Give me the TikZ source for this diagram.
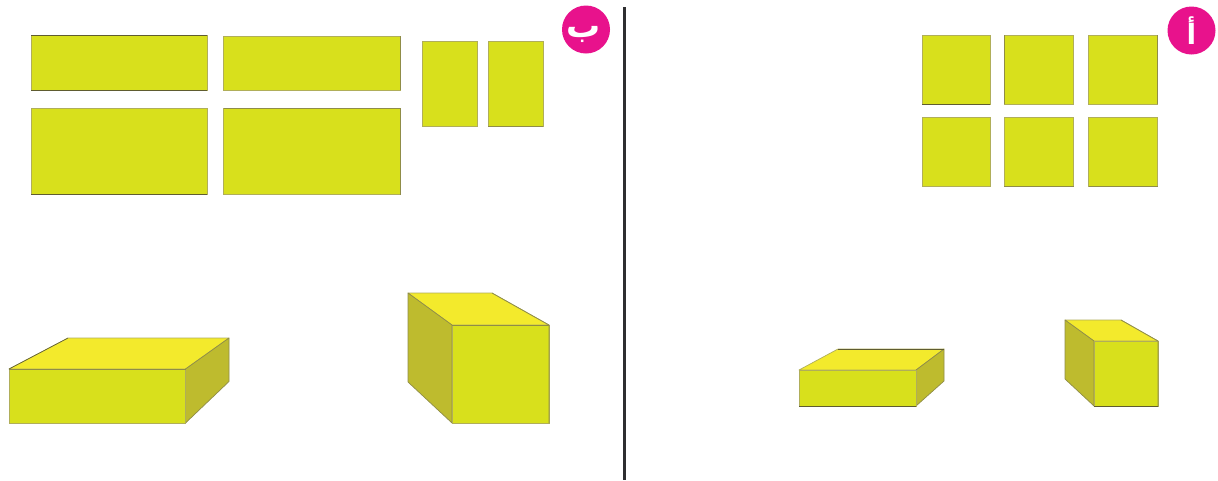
\documentclass[tikz,border=0pt]{standalone}
\usepackage{fontspec}
\newfontfamily\arabicfont[Script=Arabic]{DejaVu Sans}
\TeXXeTstate=1
\definecolor{front}{HTML}{D8E01C}
\definecolor{topf}{HTML}{F3EA2C}
\definecolor{sidef}{HTML}{BEBB2E}
\definecolor{edgesoft}{HTML}{B0AE5A}
\definecolor{edgedark}{HTML}{5F5C30}
\definecolor{edgemid}{HTML}{8F8C48}
\definecolor{badge}{HTML}{E8128C}
\definecolor{divider}{HTML}{2F2F31}
\tikzset{
  pane/.style={fill=front,draw=edgesoft,line width=0.7pt},
  topface/.style={fill=topf,draw=edgesoft,line width=0.7pt,line join=round},
  sideface/.style={fill=sidef,draw=edgemid,line width=0.7pt,line join=round},
  darkline/.style={draw=edgedark,line width=1pt},
  midline/.style={draw=edgemid,line width=1pt},
  badgetext/.style={text=white,inner sep=0pt}
}
\begin{document}
\begin{tikzpicture}[x=1pt,y=-1pt]
\useasboundingbox (0,0) rectangle (1218,480);
\fill[white] (0,0) rectangle (1218,480);
% left flat panes
\draw[pane] (31,35) rectangle (207,90);
\draw[darkline] (31,35) -- (207,35) (31,90) -- (207,90);
\draw[pane] (223.5,36) rectangle (400.5,90);
\draw[midline] (400.5,36) -- (400.5,90);
\draw[pane] (31,108) rectangle (207,194.5);
\draw[darkline] (31,194.5) -- (207,194.5);
\draw[pane] (223.5,108.5) rectangle (400.5,194.5);
\draw[midline] (223.5,108.5) -- (400.5,108.5) -- (400.5,194.5);
\draw[pane] (422,41) rectangle (477,126);
\draw[pane] (488,41) rectangle (543,126);
\draw[midline] (488,126) -- (543,126);
% right flat panes
\draw[pane] (922,35) rectangle (990,104);
\draw[darkline] (922,104) -- (990,104);
\draw[pane] (1004,35) rectangle (1073.5,104);
\draw[midline] (1004,35) -- (1004,104);
\draw[pane] (1088,35) rectangle (1157,104);
\draw[midline] (1157,35) -- (1157,104);
\draw[pane] (922,117.5) rectangle (990,186.5);
\draw[pane] (1004,117.5) rectangle (1073.5,186.5);
\draw[midline] (1004,186.5) -- (1073.5,186.5);
\draw[pane] (1088.5,117.5) rectangle (1157.5,186.5);
\draw[midline] (1088.5,186.5) -- (1157.5,186.5);
% large flat box
\draw[topface] (9,369) -- (68,338) -- (229,338) -- (185.5,369) -- cycle;
\draw[sideface] (185.5,369) -- (229,338) -- (229,381.5) -- (185.5,423) -- cycle;
\draw[pane] (9,369) rectangle (185.5,423);
\draw[midline] (9,369) -- (185.5,369);
\draw[edgedark,line width=0.6pt] (9,369) -- (68,338);
% large cube
\draw[topface] (408,293) -- (492,293) -- (549,325) -- (452,325) -- cycle;
\draw[sideface] (408,293) -- (452,325) -- (452,423) -- (408,382) -- cycle;
\draw[pane] (452,325) rectangle (549,423);
\draw[midline] (452,325) -- (549,325);
\draw[edgemid,line width=0.7pt] (492,293) -- (549,325) -- (549,423);
% small flat box
\draw[topface] (799,370) -- (838,349) -- (944,349) -- (916,370) -- cycle;
\draw[sideface] (916,370) -- (944,349) -- (944,381) -- (916,406) -- cycle;
\draw[pane] (799,370) rectangle (916,406);
\draw[darkline] (799,406) -- (916,406);
\draw[darkline,line width=0.8pt] (838,349) -- (944,349);
% small cube
\draw[topface] (1065,320) -- (1121,320) -- (1158,341) -- (1094,341) -- cycle;
\draw[sideface] (1065,320) -- (1094,341) -- (1094,406) -- (1065,379) -- cycle;
\draw[pane] (1094,341) rectangle (1158,406);
\draw[darkline] (1094,406) -- (1158,406);
\draw[edgemid,line width=0.7pt] (1121,320) -- (1158,341) -- (1158,406);
% divider
\draw[divider,line width=3pt] (624,7) -- (624,480);
% badges
\node[circle,fill=badge,minimum size=48pt,inner sep=0pt] (badgeb) at (586,29.5) {};
\node[badgetext,font=\arabicfont\bfseries\fontsize{34pt}{34pt}\selectfont] (labelb) at (584,34) {\beginR ب\endR};
\node[circle,fill=badge,minimum size=48pt,inner sep=0pt] (badgea) at (1191.5,30.5) {};
\node[badgetext,font=\arabicfont\bfseries\fontsize{28pt}{28pt}\selectfont] (labela) at (1191.5,30.5) {\beginR أ\endR};
\end{tikzpicture}
\end{document}
